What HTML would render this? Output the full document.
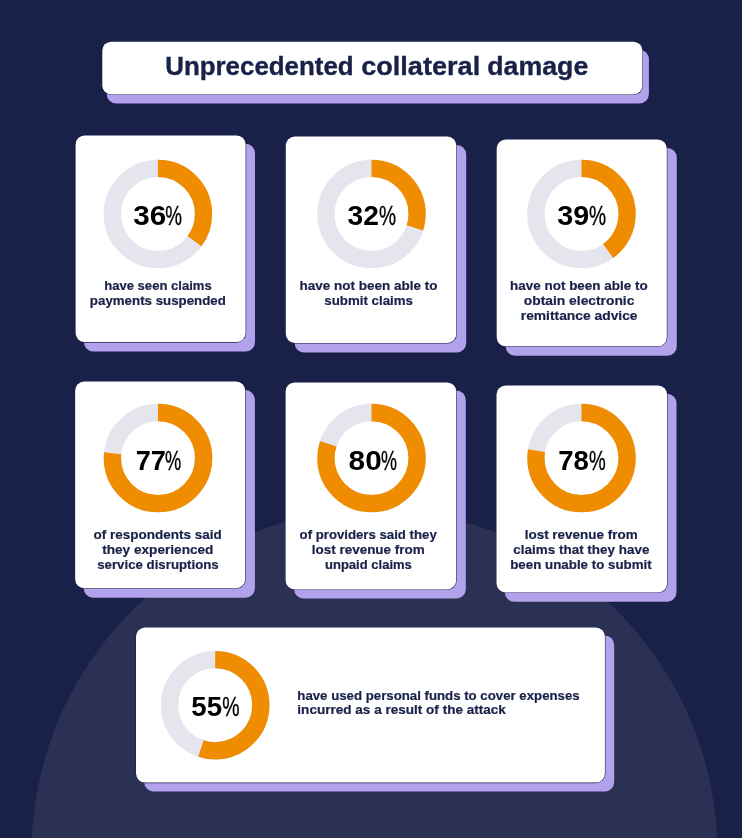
<!DOCTYPE html>
<html lang="en"><head><meta charset="utf-8"><title>Unprecedented collateral damage</title>
<style>
html,body{margin:0;padding:0;background:#1a2148;}
body{width:742px;height:838px;overflow:hidden;position:relative;}
svg{display:block;position:absolute;left:0;top:0;}
text{font-family:"Liberation Sans",Arial,Helvetica,sans-serif;}
.cap{font-weight:700;font-size:13px;fill:#1a2149;stroke:#1a2149;stroke-width:0.2px;}
.num{font-weight:700;font-size:27.2px;fill:#000;}
.pct{font-weight:400;stroke:#000;stroke-width:0.35px;}
.title{font-weight:700;font-size:25.5px;fill:#1a2149;stroke:#1a2149;stroke-width:0.35px;}
</style></head><body>
<svg width="742" height="838" viewBox="0 0 742 838">

<rect width="742" height="838" fill="#1a2148"/>
<circle cx="374.5" cy="853.3" r="343" fill="#2a3155"/>
<rect x="106.70" y="49.80" width="542.20" height="53.80" rx="9.5" fill="#b2a2ec"/>
<rect x="101.75" y="41.15" width="541.20" height="53.80" rx="9.6" fill="#1a2149"/>
<rect x="102.30" y="41.70" width="540.10" height="52.70" rx="9.0" fill="#fff"/>
<text class="title" y="74.9"><tspan x="165.2" textLength="188.5" lengthAdjust="spacingAndGlyphs">Unprecedented</tspan> <tspan x="361.2" textLength="119" lengthAdjust="spacingAndGlyphs">collateral</tspan> <tspan x="487.3" textLength="101" lengthAdjust="spacingAndGlyphs">damage</tspan></text>
<rect x="83.90" y="143.80" width="171.10" height="207.80" rx="9.5" fill="#b2a2ec"/>
<rect x="75.05" y="134.85" width="171.10" height="207.80" rx="9.6" fill="#1a2149"/>
<rect x="75.60" y="135.40" width="170.00" height="206.70" rx="9.0" fill="#fff"/>
<circle cx="157.9" cy="214.0" r="45.6" fill="none" stroke="#e5e5ee" stroke-width="17.3"/>
<circle cx="157.9" cy="214.0" r="45.6" fill="none" stroke="#f08c00" stroke-width="17.3" stroke-dasharray="100.57 286.51" transform="rotate(-90 157.9 214.0)"/>
<text class="num" y="224.6"><tspan x="133.22" textLength="32.95" lengthAdjust="spacingAndGlyphs">36</tspan><tspan class="pct" x="165.23" textLength="16.74" lengthAdjust="spacingAndGlyphs">%</tspan></text>
<rect x="294.60" y="145.00" width="171.60" height="207.60" rx="9.5" fill="#b2a2ec"/>
<rect x="285.25" y="135.95" width="171.60" height="207.60" rx="9.6" fill="#1a2149"/>
<rect x="285.80" y="136.50" width="170.50" height="206.50" rx="9.0" fill="#fff"/>
<circle cx="371.5" cy="214.0" r="45.6" fill="none" stroke="#e5e5ee" stroke-width="17.3"/>
<circle cx="371.5" cy="214.0" r="45.6" fill="none" stroke="#f08c00" stroke-width="17.3" stroke-dasharray="85.67 286.51" transform="rotate(-90 371.5 214.0)"/>
<text class="num" y="224.6"><tspan x="347.55" textLength="31.38" lengthAdjust="spacingAndGlyphs">32</tspan><tspan class="pct" x="379.02" textLength="17.07" lengthAdjust="spacingAndGlyphs">%</tspan></text>
<rect x="505.60" y="147.90" width="171.20" height="207.90" rx="9.5" fill="#b2a2ec"/>
<rect x="496.15" y="138.95" width="171.20" height="207.90" rx="9.6" fill="#1a2149"/>
<rect x="496.70" y="139.50" width="170.10" height="206.80" rx="9.0" fill="#fff"/>
<circle cx="581.5" cy="214.0" r="45.6" fill="none" stroke="#e5e5ee" stroke-width="17.3"/>
<circle cx="581.5" cy="214.0" r="45.6" fill="none" stroke="#f08c00" stroke-width="17.3" stroke-dasharray="114.61 286.51" transform="rotate(-90 581.5 214.0)"/>
<text class="num" y="224.6"><tspan x="557.24" textLength="31.92" lengthAdjust="spacingAndGlyphs">39</tspan><tspan class="pct" x="589.02" textLength="17.07" lengthAdjust="spacingAndGlyphs">%</tspan></text>
<rect x="83.75" y="390.10" width="171.15" height="207.70" rx="9.5" fill="#b2a2ec"/>
<rect x="74.60" y="381.05" width="171.15" height="207.70" rx="9.6" fill="#1a2149"/>
<rect x="75.15" y="381.60" width="170.05" height="206.60" rx="9.0" fill="#fff"/>
<circle cx="158.0" cy="458.1" r="45.6" fill="none" stroke="#e5e5ee" stroke-width="17.3"/>
<circle cx="158.0" cy="458.1" r="45.6" fill="none" stroke="#f08c00" stroke-width="17.3" stroke-dasharray="219.47 286.51" transform="rotate(-90 158.0 458.1)"/>
<text class="num" y="469.8"><tspan x="135.64" textLength="30.16" lengthAdjust="spacingAndGlyphs">77</tspan><tspan class="pct" x="164.95" textLength="16.20" lengthAdjust="spacingAndGlyphs">%</tspan></text>
<rect x="294.10" y="390.45" width="171.70" height="208.15" rx="9.5" fill="#b2a2ec"/>
<rect x="285.05" y="381.90" width="171.70" height="208.15" rx="9.6" fill="#1a2149"/>
<rect x="285.60" y="382.45" width="170.60" height="207.05" rx="9.0" fill="#fff"/>
<circle cx="371.5" cy="458.1" r="45.6" fill="none" stroke="#e5e5ee" stroke-width="17.3"/>
<circle cx="371.5" cy="458.1" r="45.6" fill="none" stroke="#f08c00" stroke-width="17.3" stroke-dasharray="229.21 286.51" transform="rotate(-90 371.5 458.1)"/>
<text class="num" y="469.8"><tspan x="348.55" textLength="33.17" lengthAdjust="spacingAndGlyphs">80</tspan><tspan class="pct" x="381.06" textLength="15.98" lengthAdjust="spacingAndGlyphs">%</tspan></text>
<rect x="504.80" y="393.80" width="171.70" height="208.00" rx="9.5" fill="#b2a2ec"/>
<rect x="495.95" y="385.05" width="171.70" height="208.00" rx="9.6" fill="#1a2149"/>
<rect x="496.50" y="385.60" width="170.60" height="206.90" rx="9.0" fill="#fff"/>
<circle cx="581.5" cy="458.1" r="45.6" fill="none" stroke="#e5e5ee" stroke-width="17.3"/>
<circle cx="581.5" cy="458.1" r="45.6" fill="none" stroke="#f08c00" stroke-width="17.3" stroke-dasharray="222.05 286.51" transform="rotate(-90 581.5 458.1)"/>
<text class="num" y="469.8"><tspan x="558.32" textLength="30.63" lengthAdjust="spacingAndGlyphs">78</tspan><tspan class="pct" x="589.03" textLength="16.74" lengthAdjust="spacingAndGlyphs">%</tspan></text>
<rect x="144.20" y="635.50" width="470.00" height="156.10" rx="9.5" fill="#b2a2ec"/>
<rect x="135.45" y="627.05" width="470.00" height="156.10" rx="9.6" fill="#1a2149"/>
<rect x="136.00" y="627.60" width="468.90" height="155.00" rx="9.0" fill="#fff"/>
<circle cx="215.2" cy="705.2" r="45.6" fill="none" stroke="#e5e5ee" stroke-width="17.3"/>
<circle cx="215.2" cy="705.2" r="45.6" fill="none" stroke="#f08c00" stroke-width="17.3" stroke-dasharray="157.58 286.51" transform="rotate(-90 215.2 705.2)"/>
<text class="num" y="716.0"><tspan x="191.35" textLength="30.72" lengthAdjust="spacingAndGlyphs">55</tspan><tspan class="pct" x="222.21" textLength="17.29" lengthAdjust="spacingAndGlyphs">%</tspan></text>
<text class="cap" x="104.18" y="290.2" textLength="107.57" lengthAdjust="spacingAndGlyphs">have seen claims</text>
<text class="cap" x="89.87" y="305.1" textLength="136.03" lengthAdjust="spacingAndGlyphs">payments suspended</text>
<text class="cap" x="299.48" y="290.2" textLength="137.99" lengthAdjust="spacingAndGlyphs">have not been able to</text>
<text class="cap" x="324.39" y="305.1" textLength="88.53" lengthAdjust="spacingAndGlyphs">submit claims</text>
<text class="cap" x="510.14" y="290.2" textLength="137.49" lengthAdjust="spacingAndGlyphs">have not been able to</text>
<text class="cap" x="523.85" y="305.1" textLength="110.56" lengthAdjust="spacingAndGlyphs">obtain electronic</text>
<text class="cap" x="520.78" y="319.6" textLength="116.80" lengthAdjust="spacingAndGlyphs">remittance advice</text>
<text class="cap" x="93.48" y="539.4" textLength="128.17" lengthAdjust="spacingAndGlyphs">of respondents said</text>
<text class="cap" x="102.16" y="554.2" textLength="111.26" lengthAdjust="spacingAndGlyphs">they experienced</text>
<text class="cap" x="97.22" y="568.6" textLength="121.51" lengthAdjust="spacingAndGlyphs">service disruptions</text>
<text class="cap" x="299.58" y="539.4" textLength="137.16" lengthAdjust="spacingAndGlyphs">of providers said they</text>
<text class="cap" x="311.74" y="554.2" textLength="113.05" lengthAdjust="spacingAndGlyphs">lost revenue from</text>
<text class="cap" x="324.98" y="568.6" textLength="86.91" lengthAdjust="spacingAndGlyphs">unpaid claims</text>
<text class="cap" x="524.66" y="539.4" textLength="113.08" lengthAdjust="spacingAndGlyphs">lost revenue from</text>
<text class="cap" x="513.38" y="554.2" textLength="136.02" lengthAdjust="spacingAndGlyphs">claims that they have</text>
<text class="cap" x="510.21" y="568.6" textLength="141.52" lengthAdjust="spacingAndGlyphs">been unable to submit</text>
<text class="cap" x="297.31" y="700.0" textLength="282.36" lengthAdjust="spacingAndGlyphs">have used personal funds to cover expenses</text>
<text class="cap" x="297.35" y="714.1" textLength="208.53" lengthAdjust="spacingAndGlyphs">incurred as a result of the attack</text>
</svg></body></html>
